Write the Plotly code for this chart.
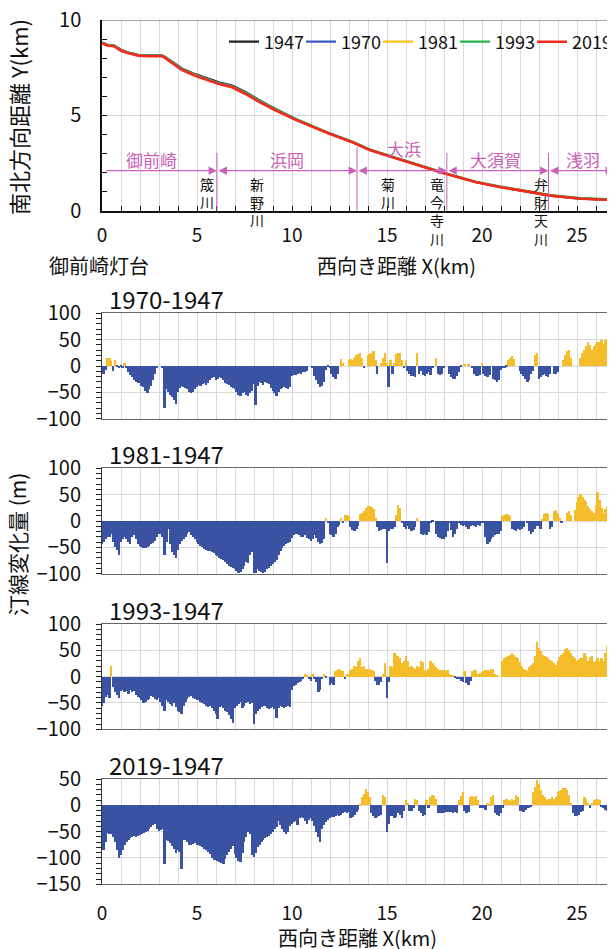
import plotly.graph_objects as go

# ---------------- data ----------------
# shoreline positions (km)
shore_x = [0, 0.3, 0.6, 1.0, 1.4, 1.9, 2.5, 3.15, 3.35, 3.7, 4.2, 4.9, 5.6, 6.15, 6.85, 7.55,
           8.25, 9.1, 10.2, 11.05, 11.9, 13.1, 14.1, 15.2, 16.6, 18.0, 19.7, 21.0, 22.4, 23.6, 25.2, 27.0]
y1947 = [8.82, 8.70, 8.68, 8.44, 8.29, 8.17, 8.14, 8.14, 8.05, 7.80, 7.46, 7.16, 6.90, 6.73, 6.56, 6.22,
         5.81, 5.35, 4.81, 4.44, 4.09, 3.64, 3.19, 2.84, 2.41, 1.97, 1.49, 1.23, 1.00, 0.79, 0.63, 0.56]
y1970 = [8.81, 8.69, 8.67, 8.42, 8.28, 8.16, 8.13, 8.13, 8.03, 7.78, 7.43, 7.13, 6.87, 6.70, 6.53, 6.19,
         5.78, 5.33, 4.79, 4.43, 4.08, 3.63, 3.19, 2.84, 2.41, 1.97, 1.49, 1.23, 1.00, 0.79, 0.63, 0.56]
y1981 = [8.80, 8.68, 8.66, 8.41, 8.27, 8.15, 8.12, 8.12, 8.02, 7.76, 7.41, 7.11, 6.85, 6.67, 6.50, 6.16,
         5.76, 5.31, 4.78, 4.42, 4.07, 3.63, 3.19, 2.84, 2.41, 1.97, 1.50, 1.24, 1.01, 0.80, 0.64, 0.57]
y1993 = [8.80, 8.68, 8.66, 8.41, 8.27, 8.15, 8.12, 8.12, 8.02, 7.77, 7.42, 7.12, 6.86, 6.68, 6.51, 6.17,
         5.77, 5.33, 4.80, 4.44, 4.09, 3.65, 3.21, 2.86, 2.43, 1.99, 1.52, 1.26, 1.03, 0.82, 0.66, 0.59]
y2019 = [8.78, 8.65, 8.64, 8.39, 8.25, 8.13, 8.10, 8.10, 7.99, 7.73, 7.38, 7.08, 6.82, 6.64, 6.47, 6.12,
         5.72, 5.28, 4.76, 4.40, 4.06, 3.62, 3.18, 2.83, 2.40, 1.96, 1.49, 1.23, 1.00, 0.79, 0.63, 0.56]
years = ["1947", "1970", "1981", "1993", "2019"]
year_colors = ["#222222", "#3f5bc0", "#ffc21a", "#2db34a", "#f42a1e"]

# alongshore distance of change values (km)
dist_km = [round(i * 0.1, 1) for i in range(271)]

d70 = ([-5, -15, -8, 14, 15, 8, -10, 10, -3, -5] + [-3, -5, 5, -5, -12, -18, -22, -27, -30, -32]
       + [-33, -38, -40, -48, -52, -45, -38, -28, -15, -5] + [0, 0, -5, -80, -45, -50, -55, -60, -66, -72]
       + [-50, -42, -38, -40, -42, -45, -50, -52, -50, -45] + [-40, -36, -38, -35, -33, -36, -32, -28, -24, -22]
       + [-27, -25, -22, -24, -28, -32, -35, -36, -40, -43] + [-45, -50, -55, -57, -52, -50, -55, -58, -52, -48]
       + [-35, -75, -38, -30, -33, -36, -30, -32, -35, -42] + [-48, -52, -58, -50, -45, -42, -40, -42, -44, -40]
       + [-20, -18, -17, -15, -14, -15, -12, -12, -10, 0] + [0, -5, -20, -28, -35, -40, -38, -30, -8, -3]
       + [-5, -15, -22, -25, -15, 0, 12, 5, 0, 0] + [10, 12, 10, 15, 20, 22, 25, 15, -5, 0]
       + [20, 22, 25, 28, 10, -15, 0, 5, 15, 25] + [5, -40, 10, -15, 5, 22, 25, 25, 10, -5]
       + [10, -10, -15, -20, -20, -22, 25, -15, -10, -18] + [-20, -15, -12, -18, -5, 0, 15, -15, -18, -15]
       + [-5, 0, 0, -15, -22, -25, -25, -20, -12, -3] + [0, 2, 0, 3, 0, -5, -15, -20, -20, -18]
       + [5, -15, -20, -22, -18, 0, -25, -28, -30, -28] + [-8, -5, -5, -3, 10, 15, 18, 12, 0, 0]
       + [-10, -15, -20, -25, -30, -28, -15, -10, 20, 25] + [-25, -22, -18, -15, -20, -22, -15, 0, -15, -15]
       + [-12, 0, 0, 10, 20, 28, 30, 15, 0, 0] + [0, 0, 15, 25, 30, 38, 45, 40, 30, 38]
       + [42, 45, 45, 48, 42, 48, 50, 45, 42, 40] + [40])

d81 = ([-45, -40, -35, -30, -30, -25, -40, -50, -55, -65] + [-40, -35, -30, -35, -40, -45, -30, -28, -35, -45]
       + [-48, -50, -52, -52, -50, -48, -45, -42, -38, -30] + [-26, -25, -30, -65, -40, -15, -45, -60, -65, -70]
       + [-55, -45, -38, -35, -30, -25, -22, -28, -30, -35] + [-40, -45, -48, -50, -53, -55, -58, -58, -60, -62]
       + [-65, -67, -70, -72, -75, -78, -82, -85, -87, -90] + [-92, -95, -100, -97, -92, -85, -78, -80, -65, -60]
       + [-100, -100, -92, -95, -98, -100, -98, -92, -90, -85] + [-82, -78, -75, -65, -58, -52, -48, -45, -42, -40]
       + [-32, -28, -25, -26, -28, -30, -30, -28, -32, -35] + [-38, -35, -28, -32, -40, -45, -42, -35, 5, -5]
       + [-25, -28, -30, -25, -12, -8, 6, -5, 10, 10] + [8, -12, -18, -20, -15, -10, 12, 15, 18, 25]
       + [28, 28, 26, 22, 5, -12, -20, -18, -15, -15] + [-80, -20, -15, -15, -12, 10, 30, 25, -5, -12]
       + [-15, -10, -15, -20, -18, -12, 5, 0, -25, -28] + [-25, -28, -22, -5, -2, 0, -25, -30, -33, -35]
       + [-35, -30, -20, -5, -18, -30, -25, -15, -5, -8] + [-10, -8, -12, -15, -10, -8, -10, -12, -8, -10]
       + [-5, -5, -30, -45, -40, -35, -30, -28, -25, -25] + [-20, 8, 10, 12, 10, 8, -15, -18, -20, -15]
       + [-18, -15, -12, 0, -5, -20, -25, -22, -15, -10] + [-10, -15, 3, 12, 15, 12, -15, -12, 18, 20]
       + [15, 5, -5, 0, 0, 15, 18, 10, 0, 20] + [35, 45, 50, 45, 40, 35, 28, 22, 18, 15]
       + [30, 55, 40, 25, 15, 22, 28, 32, 35, 30] + [25])

d93 = ([-55, -50, -38, -35, -40, 21, -20, -30, -35, -40] + [-28, -25, -30, -28, -32, -25, -30, -28, -35, -38]
       + [-40, -45, -50, -48, -45, -42, -36, -38, -42, -45] + [-40, -48, -55, -65, -45, -48, -52, -55, -50, -58]
       + [-65, -68, -70, -55, -48, -42, -38, -36, -40, -42] + [-44, -45, -48, -50, -52, -55, -58, -55, -60, -65]
       + [-70, -80, -58, -55, -60, -65, -68, -72, -80, -88] + [-60, -55, -52, -48, -60, -55, -50, -48, -52, -50]
       + [-90, -70, -65, -62, -58, -55, -56, -60, -62, -60] + [-58, -62, -78, -60, -56, -58, -60, -57, -55, -58]
       + [-25, -18, -15, -12, -10, -8, -5, 5, 3, -5] + [-8, 5, -5, -10, -30, -25, -5, 5, -3, 0]
       + [-15, -12, -15, 10, 12, 15, 12, 10, -5, 5] + [5, 12, 15, 20, 18, 30, 35, 18, 20, 15]
       + [15, 15, 12, 10, -8, -15, -15, -10, 5, 25] + [-40, -10, 20, 18, 45, 42, 40, 35, 25, 30]
       + [40, 30, 18, 20, 16, 15, 20, 18, 30, 28] + [12, 10, 15, 30, 25, 22, 18, 15, 13, 12]
       + [12, 10, 12, 5, 3, 2, -3, -5, -5, -8] + [-10, 10, -12, -15, -8, 10, 12, 12, 5, 6]
       + [8, 10, 12, 12, 10, 14, 15, 5, 2, 0] + [0, 30, 35, 38, 40, 42, 45, 42, 38, 35]
       + [28, 20, 15, 12, 10, 18, 22, 25, 40, 65] + [55, 48, 42, 40, 38, 35, 32, 30, 25, 22]
       + [30, 38, 42, 45, 52, 55, 50, 45, 40, 35] + [30, 32, 35, 35, 45, 40, 30, 38, 40, 28]
       + [30, 35, 30, 35, 30, 45, 58, 62, 30, 28] + [25])

d19 = ([-80, -85, -70, -52, -55, -55, -60, -70, -85, -100] + [-95, -85, -75, -70, -65, -62, -60, -58, -60, -58]
       + [-56, -55, -52, -50, -48, -45, -42, -38, -35, -45] + [-48, -46, -45, -112, -65, -68, -72, -78, -82, -90]
       + [-85, -88, -120, -65, -65, -70, -75, -75, -74, -72] + [-75, -76, -78, -80, -82, -85, -88, -92, -100, -104]
       + [-104, -106, -108, -110, -112, -102, -95, -88, -82, -78] + [-92, -100, -105, -108, -90, -70, -60, -50, -55, -95]
       + [-98, -90, -80, -75, -70, -65, -62, -60, -58, -55] + [-50, -45, -42, -30, -38, -45, -50, -55, -50, -40]
       + [-35, -32, -30, -38, -25, -22, -25, -30, -35, -28] + [-25, -30, -40, -50, -60, -70, -45, -38, -32, -28]
       + [-25, -23, -22, -20, -18, -20, -18, -15, -12, -15] + [-12, -25, -22, -18, -12, -8, 3, 15, 22, 31]
       + [25, 15, -15, -20, -25, -22, -20, -18, 20, 15] + [-50, -35, -20, -20, -25, -22, -15, -18, -25, -10]
       + [10, 5, -10, -10, -5, 12, 10, -10, -15, -20] + [-18, 10, -5, 15, 20, 18, 12, -15, -15, -15]
       + [-15, -13, -12, -12, -13, -15, -12, -15, 10, 18] + [25, -10, -15, -12, 15, 18, 15, 18, 10, -5]
       + [-5, -5, -8, 5, 3, 15, 20, -15, -18, -20] + [-15, -5, 10, 12, 10, 8, 12, 10, 20, 15]
       + [-10, -10, -12, -8, -5, -5, -3, 25, 35, 48] + [40, 30, 20, 15, 10, 12, 12, 15, 12, 15]
       + [25, 28, 30, 32, 32, 30, 20, 5, -15, -20] + [-20, -18, -12, -10, 15, 12, 5, -5, 5, 10]
       + [12, 12, 10, -3, -5, -8, -10, -12, -15, -15] + [-15])

panel_titles = ["1970-1947", "1981-1947", "1993-1947", "2019-1947"]
panel_ranges = [[-100, 100], [-100, 100], [-100, 100], [-150, 50]]

# coast sections and rivers (km)
section_names = ["御前崎", "浜岡", "大浜", "大須賀", "浅羽"]
section_start = [0.15, 6.05, 13.42, 18.15, 23.5]
section_end = [6.05, 13.42, 18.15, 23.5, 26.95]
section_label_x = [2.63, 9.74, 15.9, 20.7, 25.3]
section_label_y = [2.66, 2.66, 3.26, 2.66, 2.66]
boundary_x = [6.05, 13.42, 18.15, 23.5]
boundary_top = [3.03, 3.34, 3.03, 3.03]
river_names = ["筬川", "新野川", "菊川", "竜今寺川", "弁財天川"]
river_x = [5.53, 8.16, 15.04, 17.65, 23.12]

# ---------------- style ----------------
OFF = 8                      # page body offset
W, H = 615 - OFF, 949 - OFF
L = 102 - OFF
PW = W - L
NUM = "Noto Sans CJK JP, sans-serif"
JP = "Noto Sans CJK JP, sans-serif"
BLUE = "#3a52a2"
GOLD = "#f6bd2b"
MAG = "#c95fb8"
GRID = "#d9d9d9"


def pyp(py):
    return 1 - (py - OFF) / H


def pxp(px):
    return (px - OFF - L) / PW


top_px = (20, 210.7)
panel_px = [(313.3, 418.7), (468.3, 573.7), (624, 729.3), (779, 884.3)]

fig = go.Figure()

for yr, ys, col in zip(years, [y1947, y1970, y1981, y1993, y2019], year_colors):
    last = yr == years[-1]
    fig.add_trace(go.Scatter(x=shore_x, y=ys, mode="lines", name=yr,
                             line=dict(color=col, width=2.6 if last else 2.2),
                             legendwidth=46 if last else None,
                             xaxis="x", yaxis="y"))

for i, d in enumerate([d70, d81, d93, d19]):
    n = i + 2
    fig.add_trace(go.Bar(x=dist_km, y=d, width=0.1,
                         marker=dict(color=[GOLD if v > 0 else BLUE for v in d], line=dict(width=0)),
                         showlegend=False, xaxis=f"x{n}", yaxis=f"y{n}"))

layout = dict(
    width=W, height=H, margin=dict(l=L, r=0, t=0, b=0, autoexpand=False),
    paper_bgcolor="white", plot_bgcolor="white", bargap=0,
    font=dict(family=NUM, color="#111"),
    showlegend=True,
    legend=dict(orientation="h", x=pxp(224), xanchor="left", y=pyp(42), yanchor="middle",
                font=dict(family=NUM, size=18, color="#111"), entrywidth=32, entrywidthmode="pixels",
                itemwidth=30, bgcolor="rgba(0,0,0,0)", tracegroupgap=0),
)

layout["xaxis"] = dict(domain=[0, 1], anchor="y", range=[0, 27], dtick=5, tick0=0,
                       ticks="inside", ticklen=5, tickcolor="#111",
                       minor=dict(dtick=1, ticks="inside", ticklen=5, tickcolor="#111", showgrid=True, gridcolor=GRID),
                       showgrid=True, gridcolor=GRID, showline=True, linecolor="#111", linewidth=1.5,
                       zeroline=False, tickfont=dict(family=NUM, size=19), ticklabelstandoff=7,
                       ticklabeloverflow="allow")
layout["yaxis"] = dict(domain=[pyp(top_px[1]), pyp(top_px[0])], anchor="x", range=[0, 10], dtick=5, tick0=0,
                       ticks="inside", ticklen=5, tickcolor="#111",
                       minor=dict(dtick=1, ticks="inside", ticklen=5, tickcolor="#111"),
                       showgrid=True, gridcolor=GRID, showline=True, linecolor="#111", linewidth=1.5,
                       zeroline=False, tickfont=dict(family=NUM, size=20), ticklabelstandoff=15,
                       ticklabeloverflow="allow")

extra = 6
for i, (rng, (ptop, pbot)) in enumerate(zip(panel_ranges, panel_px)):
    n = i + 2
    layout[f"xaxis{n}"] = dict(domain=[0, 1], anchor=f"y{n}", range=[0, 27], dtick=5, tick0=0, ticks="",
                               minor=dict(dtick=1, showgrid=True, gridcolor=GRID),
                               showgrid=True, gridcolor=GRID, showline=True, linecolor="#666", mirror=True,
                               zeroline=False, showticklabels=(n == 5),
                               tickfont=dict(family=NUM, size=19), ticklabelstandoff=12,
                               ticklabeloverflow="allow")
    layout[f"yaxis{n}"] = dict(domain=[pyp(pbot), pyp(ptop)], anchor=f"x{n}", range=rng, dtick=50, tick0=0,
                               ticks="outside", ticklen=5, tickcolor="#222",
                               minor=dict(dtick=10, ticks="outside", ticklen=5, tickcolor="#222"),
                               showgrid=True, gridcolor=GRID, showline=True, linecolor="#333", mirror=True,
                               zeroline=False, tickfont=dict(family=NUM, size=20), ticklabelstandoff=11,
                               ticklabeloverflow="allow")
    zero_py = ptop + (rng[1] / (rng[1] - rng[0])) * (pbot - ptop)
    for side, line in (("bottom", True), ("top", False)):
        layout[f"xaxis{extra}"] = dict(overlaying=f"x{n}", anchor="free", position=pyp(zero_py), side=side,
                                       range=[0, 27], dtick=1, tick0=0, ticks="outside", ticklen=5,
                                       tickcolor="#111", showticklabels=False, showgrid=False, zeroline=False,
                                       showline=line, linecolor="#111", linewidth=1.5)
        extra += 1
for i, rng in enumerate(panel_ranges):
    n = i + 2
    layout[f"yaxis{extra}"] = dict(overlaying=f"y{n}", anchor="free", position=0, side="right", range=rng,
                                   dtick=10, tick0=0, ticks="outside", ticklen=4, tickcolor="#222",
                                   showticklabels=False, showgrid=False, zeroline=False, showline=False)
    extra += 1

shapes = [dict(type="line", xref="x domain", x0=0, x1=1, yref="y", y0=10, y1=10,
               line=dict(color="#888", width=1.5))]
for bx, bt in zip(boundary_x, boundary_top):
    shapes.append(dict(type="line", xref="x", yref="y", x0=bx, x1=bx, y0=0, y1=bt,
                       line=dict(color=MAG, width=1)))
layout["shapes"] = shapes

ann = []
for k, (s, e) in enumerate(zip(section_start, section_end)):
    ann.append(dict(x=e, y=2.1, ax=s, ay=2.1, xref="x", yref="y", axref="x", ayref="y", text="",
                    showarrow=True, arrowside="end" if k == 0 else "end+start", arrowhead=2,
                    startarrowhead=2, arrowsize=1.4, startarrowsize=1.4, arrowwidth=1.2,
                    arrowcolor=MAG, standoff=0, startstandoff=0))
for name, lx, ly in zip(section_names, section_label_x, section_label_y):
    ann.append(dict(x=lx, y=ly, xref="x", yref="y", text=name, showarrow=False,
                    xanchor="center", yanchor="middle",
                    font=dict(family=JP, size=17, color=MAG)))
# river names written vertically (one character per line)
for name, rx in zip(river_names, river_x):
    ann.append(dict(x=rx, y=1.97, xref="x", yref="y", text="<br>".join(name), showarrow=False,
                    xanchor="center", yanchor="top", align="center", borderpad=0,
                    font=dict(family=JP, size=14, color="#111")))


def label(text, px, py, size, angle=0):
    return dict(x=pxp(px), y=pyp(py), xref="paper", yref="paper", text=text, textangle=angle,
                xanchor="center", yanchor="middle", showarrow=False,
                font=dict(family=JP, size=size, color="#111"))


ann.append(label("南北方向距離 Y(km)", 18, 117, 22, -90))
ann.append(label("御前崎灯台", 99, 265, 20))
ann.append(label("西向き距離 X(km)", 396, 265, 20))
ann.append(label("汀線変化量 (m)", 17, 545, 21, -90))
ann.append(label("西向き距離 X(km)", 357, 937, 20))
for t, (ptop, pbot) in zip(panel_titles, panel_px):
    ann.append(dict(x=pxp(107), y=pyp(ptop - 15), xref="paper", yref="paper", text=t,
                    xanchor="left", yanchor="middle", showarrow=False,
                    font=dict(family=NUM, size=24, color="#111")))
layout["annotations"] = ann

fig.update_layout(**layout)
fig.write_html("out.html")
